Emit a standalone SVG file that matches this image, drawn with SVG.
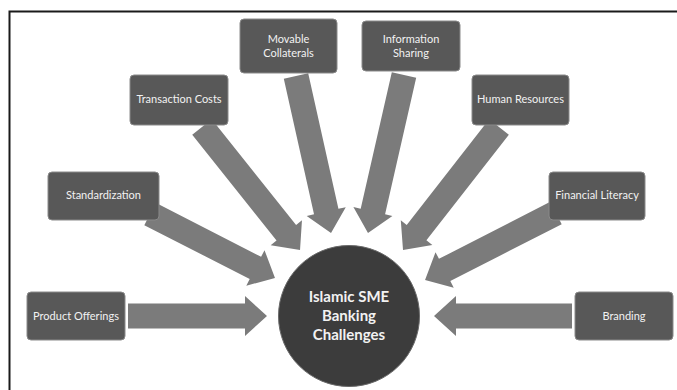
<svg xmlns="http://www.w3.org/2000/svg" width="677" height="390" viewBox="0 0 677 390">
<style>
.box{fill:#585858;stroke:#8a8a8a;stroke-width:1}
.lbl{font-family:Lato,"Liberation Sans",sans-serif;font-size:11px;fill:#f2f2f2;text-anchor:middle}
.arr{fill:#7b7b7b}
.hub{fill:#3c3c3c;stroke:#6a6a6a;stroke-width:1}
.hubt{font-family:Lato,"Liberation Sans",sans-serif;font-size:15px;font-weight:bold;fill:#f2f2f2;text-anchor:middle}
</style>
<rect width="677" height="390" fill="#ffffff"/>
<path d="M9.5,390 V11.5 H677" fill="none" stroke="#1a1a1a" stroke-width="2"/>
<g id="connectors">
<polygon class="arr" transform="translate(128,316) rotate(0)" points="0,-12.5 117,-12.5 117,-20 139,0 117,20 117,12.5 0,12.5"/>
<polygon class="arr" transform="translate(572,316) rotate(180)" points="0,-12.5 116,-12.5 116,-20 138,0 116,20 116,12.5 0,12.5"/>
<polygon class="arr" transform="translate(150,214) rotate(27.1)" points="0,-12.5 118.4,-12.5 118.4,-20 140.4,0 118.4,20 118.4,12.5 0,12.5"/>
<polygon class="arr" transform="translate(202,127) rotate(51.45)" points="0,-12.5 135.3,-12.5 135.3,-20 157.3,0 135.3,20 135.3,12.5 0,12.5"/>
<polygon class="arr" transform="translate(296,76) rotate(77.43)" points="0,-12.5 138.9,-12.5 138.9,-20 160.9,0 138.9,20 138.9,12.5 0,12.5"/>
<polygon class="arr" transform="translate(404,75) rotate(102.84)" points="0,-12.5 140,-12.5 140,-20 162,0 140,20 140,12.5 0,12.5"/>
<polygon class="arr" transform="translate(499,127) rotate(127.97)" points="0,-12.5 134,-12.5 134,-20 156,0 134,20 134,12.5 0,12.5"/>
<polygon class="arr" transform="translate(556,213) rotate(152.9)" points="0,-12.5 125.1,-12.5 125.1,-20 147.1,0 125.1,20 125.1,12.5 0,12.5"/>
</g>
<g id="node-movable-collaterals">
<rect class="box" x="240" y="19" width="97" height="54" rx="4"/>
<text class="lbl" x="288.5" y="43">Movable</text>
<text class="lbl" x="288.5" y="57">Collaterals</text>
</g>
<g id="node-information-sharing">
<rect class="box" x="362" y="21" width="98" height="50" rx="4"/>
<text class="lbl" x="411" y="43">Information</text>
<text class="lbl" x="411" y="57">Sharing</text>
</g>
<g id="node-transaction-costs">
<rect class="box" x="130" y="75" width="98" height="50" rx="4"/>
<text class="lbl" x="179" y="103">Transaction Costs</text>
</g>
<g id="node-human-resources">
<rect class="box" x="472" y="75" width="97" height="50" rx="4"/>
<text class="lbl" x="520.5" y="103">Human Resources</text>
</g>
<g id="node-standardization">
<rect class="box" x="48" y="172" width="111" height="48" rx="4"/>
<text class="lbl" x="103.5" y="199">Standardization</text>
</g>
<g id="node-financial-literacy">
<rect class="box" x="549" y="172" width="96" height="48" rx="4"/>
<text class="lbl" x="597" y="199">Financial Literacy</text>
</g>
<g id="node-product-offerings">
<rect class="box" x="27" y="292" width="98" height="48" rx="4"/>
<text class="lbl" x="76" y="320">Product Offerings</text>
</g>
<g id="node-branding">
<rect class="box" x="575" y="292" width="98" height="48" rx="4"/>
<text class="lbl" x="624" y="320">Branding</text>
</g>
<g id="node-hub">
<circle class="hub" cx="349" cy="316" r="70.5"/>
<text class="hubt" x="349" y="302">Islamic SME</text>
<text class="hubt" x="349" y="321">Banking</text>
<text class="hubt" x="349" y="340">Challenges</text>
</g>
</svg>
